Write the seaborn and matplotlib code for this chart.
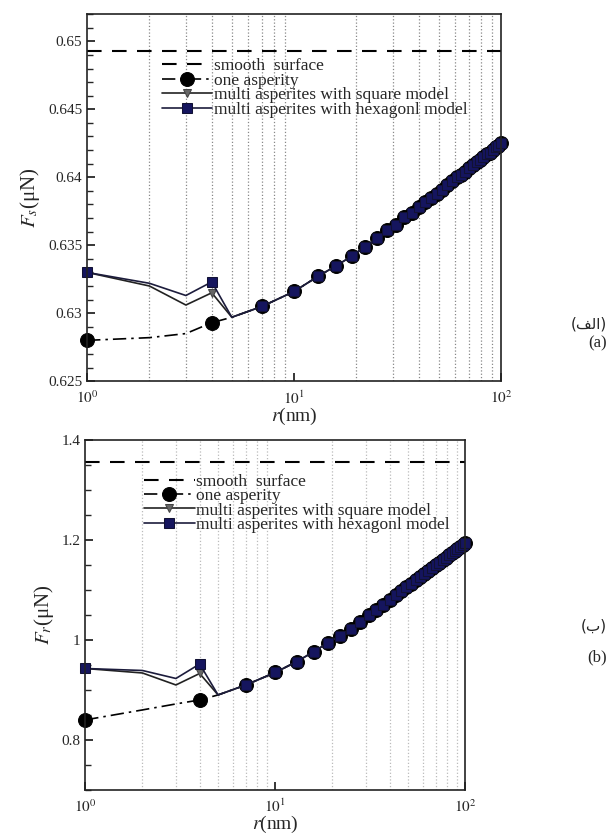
import numpy as np
import matplotlib
matplotlib.use("Agg")
import matplotlib.pyplot as plt
import matplotlib.ticker as mticker
import seaborn as sns

# radius values (nm)
r_vals = [1, 2, 3, 4, 5, 7, 10, 13, 16, 19, 22, 25, 28, 31, 34, 37, 40, 43, 46, 49,
          52, 55, 58, 61, 64, 67, 70, 73, 76, 79, 82, 85, 88, 91, 94, 97, 100]
marker_r = [1, 4, 7, 10, 13, 16, 19, 22, 25, 28, 31, 34, 37, 40, 43, 46, 49, 52, 55,
            58, 61, 64, 67, 70, 73, 76, 79, 82, 85, 88, 91, 94, 97, 100]

# shared tail (r >= 7) of all rough-surface curves
fs_tail = [0.6305, 0.6316, 0.6327, 0.6335, 0.6342, 0.6349, 0.6355, 0.6361, 0.6365,
           0.6371, 0.6374, 0.6378, 0.6382, 0.6385, 0.6388, 0.6391, 0.6394, 0.6397,
           0.6400, 0.6402, 0.6404, 0.6407, 0.6409, 0.6411, 0.6413, 0.6415, 0.6417,
           0.6418, 0.6420, 0.6422, 0.6423, 0.6425]
fr_tail = [0.910, 0.935, 0.957, 0.977, 0.995, 1.009, 1.023, 1.037, 1.050, 1.061,
           1.071, 1.081, 1.090, 1.098, 1.106, 1.113, 1.120, 1.127, 1.133, 1.139,
           1.145, 1.150, 1.155, 1.160, 1.165, 1.170, 1.174, 1.178, 1.182, 1.186,
           1.190, 1.194]

# (a) sliding force
fs_smooth = 0.6493
fs_one = [0.6280, 0.6282, 0.6285, 0.6293, 0.6297] + fs_tail
fs_square = [0.6330, 0.6320, 0.6306, 0.6315, 0.6297] + fs_tail
fs_hex = [0.6330, 0.6322, 0.6313, 0.6323, 0.6297] + fs_tail

# (b) rolling force
fr_smooth = 1.356
fr_one = [0.840, 0.860, 0.872, 0.880, 0.890] + fr_tail
fr_square = [0.943, 0.934, 0.910, 0.933, 0.890] + fr_tail
fr_hex = [0.943, 0.939, 0.923, 0.952, 0.890] + fr_tail

labels = ["smooth  surface", "one asperity",
          "multi asperites with square model",
          "multi asperites with hexagonl model"]

sns.set_style("ticks")
plt.rcParams["font.family"] = ["Liberation Serif", "DejaVu Serif"]
plt.rcParams["mathtext.fontset"] = "stix"

navy = "#15155e"
mk_idx = [i for i, r in enumerate(r_vals) if r in marker_r]


def draw_panel(ax, smooth, one, square, hexa, ylim, major, minor, ylabel, grid_col,
               leg_xy):
    ax.axhline(smooth, color="black", lw=1.5, ls=(0, (7, 5)), label=labels[0])
    sns.lineplot(x=r_vals, y=one, ax=ax, color="black", lw=1.2, ls=(0, (8, 3, 1.5, 3)),
                 marker="o", ms=10, markevery=mk_idx, mec="black", clip_on=False,
                 label=labels[1])
    sns.lineplot(x=r_vals, y=square, ax=ax, color="#222222", lw=1.2, marker="v", ms=6,
                 mfc="#666666", mec="#444444", markevery=mk_idx, clip_on=False,
                 label=labels[2])
    sns.lineplot(x=r_vals, y=hexa, ax=ax, color="#1c1c3c", lw=1.2, marker="s", ms=7.5,
                 mfc=navy, mec="#111133", markevery=mk_idx, clip_on=False,
                 label=labels[3])
    ax.set_xscale("log")
    ax.set_xlim(1, 100)
    ax.set_ylim(*ylim)
    ax.xaxis.set_major_locator(mticker.FixedLocator([1, 10, 100]))
    ax.set_xticklabels([r"$10^{0}$", r"$10^{1}$", r"$10^{2}$"])
    ax.xaxis.set_minor_locator(mticker.LogLocator(base=10, subs=np.arange(2, 10)))
    ax.yaxis.set_major_locator(mticker.MultipleLocator(major))
    ax.yaxis.set_minor_locator(mticker.MultipleLocator(minor))
    ax.yaxis.set_major_formatter(mticker.FuncFormatter(lambda v, p: "%g" % round(v, 4)))
    ax.tick_params(axis="both", which="both", direction="in", top=False, right=False,
                   labelsize=11)
    ax.tick_params(axis="x", which="minor", length=0)
    ax.tick_params(axis="x", which="major", pad=6)
    ax.tick_params(axis="both", which="major", length=6, width=1.3)
    ax.tick_params(axis="y", which="minor", length=4, width=1)
    ax.grid(True, axis="x", which="minor", color=grid_col, ls=":", lw=0.9)
    for s in ax.spines.values():
        s.set_linewidth(1.2)
        s.set_color("#222222")
    ax.set_xlabel(r"$r$(nm)", fontsize=14, labelpad=-1)
    ax.set_ylabel(ylabel, fontsize=15, labelpad=4)
    ax.legend(frameon=False, fontsize=12.5, loc="upper left", bbox_to_anchor=leg_xy,
              handlelength=2.9, handletextpad=0.1, labelspacing=-0.1, borderpad=0,
              borderaxespad=0)


fig = plt.figure(figsize=(6.09, 8.34), dpi=100)
ax1 = fig.add_axes([0.143, 0.543, 0.680, 0.440])
ax2 = fig.add_axes([0.140, 0.053, 0.624, 0.419])

draw_panel(ax1, fs_smooth, fs_one, fs_square, fs_hex, (0.625, 0.652), 0.005, 0.001,
           r"$F_s$(μN)", "#888888", (0.18, 0.88))
draw_panel(ax2, fr_smooth, fr_one, fr_square, fr_hex, (0.7, 1.4), 0.2, 0.05,
           r"$F_r$(μN)", "#bbbbbb", (0.155, 0.905))

# panel captions on the right
fig.text(0.997, 0.612, "(ﻒﻟﺍ)", fontsize=11, family=["DejaVu Sans"], ha="right", va="center")
fig.text(0.997, 0.588, "(a)", fontsize=12, ha="right", va="center")
fig.text(0.997, 0.249, "(ﺏ)", fontsize=11, family=["DejaVu Sans"], ha="right", va="center")
fig.text(0.997, 0.212, "(b)", fontsize=12, ha="right", va="center")

fig.savefig("out.png", dpi=100)
